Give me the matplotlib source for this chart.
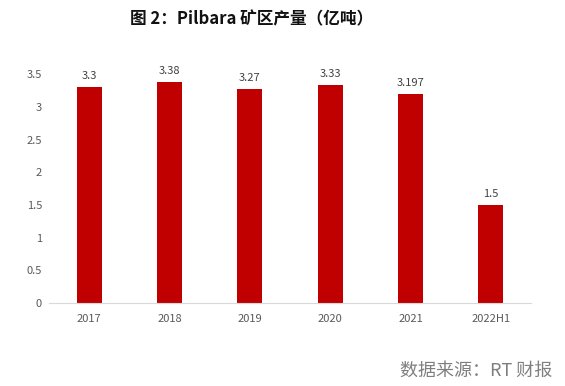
import matplotlib.pyplot as plt
import numpy as np

plt.rcParams['font.family'] = ['Noto Sans CJK SC', 'DejaVu Sans']

# data
years = ['2017', '2018', '2019', '2020', '2021', '2022H1']
output = [3.3, 3.38, 3.27, 3.33, 3.197, 1.5]
value_labels = ['3.3', '3.38', '3.27', '3.33', '3.197', '1.5']
yticks = [0, 0.5, 1, 1.5, 2, 2.5, 3, 3.5]
ytick_labels = ['0', '0.5', '1', '1.5', '2', '2.5', '3', '3.5']

fig = plt.figure(figsize=(5.65, 3.86), dpi=100)
ax = fig.add_axes([0.0867, 0.215, 0.853, 0.593])

x = np.arange(len(years))
ax.bar(x, output, width=0.31, color='#C00000')

for xi, v, lab in zip(x, output, value_labels):
    ax.text(xi, v + 0.09, lab, ha='center', va='bottom',
            fontsize=8, color='#404040', clip_on=False)

ax.set_xlim(-0.5, len(years) - 0.5)
ax.set_ylim(0, 3.5)
ax.set_xticks(x)
ax.set_xticklabels(years)
ax.set_yticks(yticks)
ax.set_yticklabels(ytick_labels)
ax.tick_params(axis='both', length=0, labelsize=8, colors='#595959')
ax.tick_params(axis='x', pad=8)
ax.tick_params(axis='y', pad=5)

for s in ['top', 'right', 'left']:
    ax.spines[s].set_visible(False)
ax.spines['bottom'].set_color('#D9D9D9')

fig.text(0.446, 0.95, '图 2：Pilbara 矿区产量（亿吨）', ha='center', va='center',
         fontsize=12, fontweight='bold', color='#111111')
fig.text(0.977, 0.04, '数据来源：RT 财报', ha='right', va='center',
         fontsize=13, color='#7f7f7f')

plt.savefig('out.png', dpi=100)
